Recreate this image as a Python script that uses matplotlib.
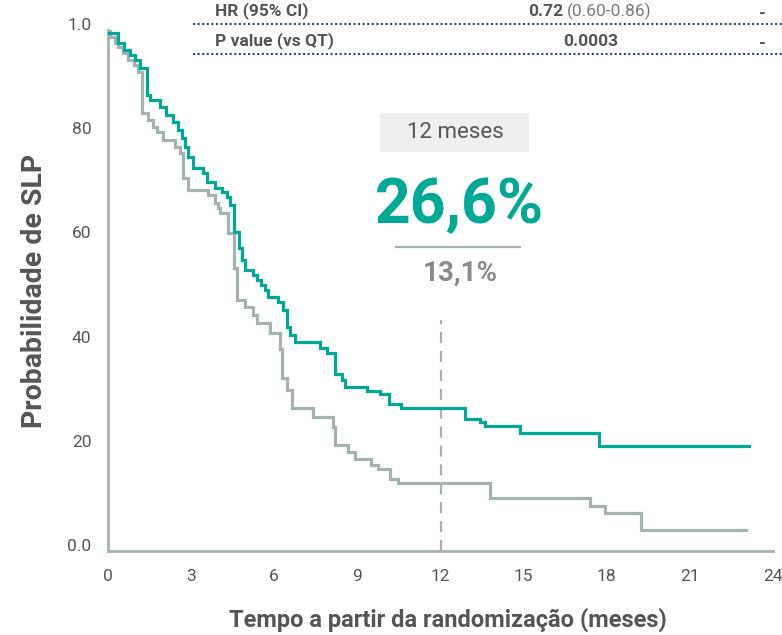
import matplotlib
matplotlib.use("Agg")
import matplotlib.pyplot as plt
import matplotlib.transforms as mtransforms
from matplotlib.lines import Line2D
from matplotlib.patches import Rectangle

plt.rcParams['font.family'] = ['Roboto', 'DejaVu Sans']

# ---------------- data ----------------
teal_t = [0, 0.36, 0.58, 0.79, 0.97, 1.15, 1.41, 1.51, 1.87, 2.09, 2.34, 2.52, 2.67, 2.77,
          2.88, 3.06, 3.42, 3.57, 3.86, 4.11, 4.29, 4.40, 4.54, 4.72, 4.83, 4.94, 5.23,
          5.37, 5.51, 5.66, 5.77, 6.13, 6.31, 6.45, 6.56, 6.74, 7.64, 7.89, 8.18, 8.43,
          8.54, 9.33, 9.80, 10.13, 10.56, 12.90, 13.44, 13.62, 14.88, 17.73]
teal_s = [99.4, 97.5, 96.2, 95.2, 94.2, 92.7, 87.5, 86.6, 85.2, 83.7, 82.3, 80.8, 79.3, 77.5,
          75.6, 73.5, 72.6, 70.8, 69.7, 68.9, 67.9, 66.4, 61.2, 58.2, 55.9, 53.9, 53.0,
          52.0, 51.1, 50.1, 48.8, 47.8, 46.3, 43.0, 41.5, 40.1, 39.0, 38.0, 34.0, 32.8,
          31.5, 30.7, 30.1, 28.2, 27.4, 25.3, 24.8, 24.0, 22.6, 20.2]
teal_end = 23.14

grey_t = [0, 0.07, 0.25, 0.36, 0.54, 0.72, 0.94, 1.08, 1.23, 1.44, 1.62, 1.77, 1.98, 2.41,
          2.59, 2.70, 2.88, 3.60, 3.86, 3.96, 4.04, 4.32, 4.54, 4.65, 4.94, 5.23, 5.37,
          5.84, 6.20, 6.27, 6.45, 6.63, 7.39, 8.11, 8.18, 8.65, 8.90, 9.48, 9.73, 10.16,
          10.45, 13.77, 17.41, 17.95, 19.24]
grey_s = [100, 98.7, 97.5, 96.7, 95.6, 94.2, 93.3, 91.9, 84.1, 82.7, 81.4, 80.4, 78.9, 77.5,
          76.4, 71.6, 69.3, 68.3, 66.8, 65.8, 64.9, 61.0, 54.3, 48.2, 46.8, 45.3, 43.8,
          41.8, 38.8, 33.2, 30.9, 27.4, 25.7, 23.8, 20.3, 19.0, 17.7, 16.5, 15.7, 13.8,
          13.1, 10.2, 8.6, 7.3, 4.0]
grey_end = 23.03

x_ticks = [0, 3, 6, 9, 12, 15, 18, 21, 24]
y_ticks = [0, 20, 40, 60, 80, 100]
y_tick_labels = ["0.0", "20", "40", "60", "80", "1.0"]

landmark_month = 12
landmark_top = 44.3
rate_teal = "26,6%"
rate_grey = "13,1%"
landmark_label = "12 meses"

table_rows = ["HR (95% CI)", "P value (vs QT)"]
table_bold = ["0.72", "0.0003"]
table_rest = ["(0.60-0.86)", ""]
table_other = ["-", "-"]

# ---------------- styling ----------------
TEAL = "#00A896"
GREY = "#A4B3AF"
TXT = "#555555"

W, H = 782, 635
fig = plt.figure(figsize=(W / 100, H / 100), dpi=100)

def fx(px):
    return px / W

def fy(py):
    return 1 - py / H

ax = fig.add_axes([fx(108), fy(551), (773 - 108) / W, (551 - 30) / H])
ax.set_xlim(0, 23.96)
ax.set_ylim(0, 100)

ax.step(teal_t + [teal_end], teal_s + [teal_s[-1]], where='post', color=TEAL, lw=2.3,
        zorder=4, solid_joinstyle='miter')
ax.step(grey_t + [grey_end], grey_s + [grey_s[-1]], where='post', color=GREY, lw=2.3,
        zorder=3, solid_joinstyle='miter')

ax.plot([landmark_month, landmark_month], [0, landmark_top], color=GREY, lw=1.6,
        linestyle=(0, (5, 3.5)), zorder=2)

for s in ['top', 'right']:
    ax.spines[s].set_visible(False)
for s in ['left', 'bottom']:
    ax.spines[s].set_color(GREY)
    ax.spines[s].set_linewidth(2)

ax.set_xticks(x_ticks)
ax.set_xticklabels([str(v) for v in x_ticks])
ax.set_yticks(y_ticks)
ax.set_yticklabels(y_tick_labels)
ax.tick_params(axis='both', length=0, labelsize=12.5, colors=TXT)
ax.tick_params(axis='x', pad=13)
ax.tick_params(axis='y', pad=12)
off = mtransforms.ScaledTranslation(0, 6 / 100, fig.dpi_scale_trans)
for lab in ax.get_yticklabels():
    lab.set_transform(lab.get_transform() + off)

fig.text(fx(448), fy(620), "Tempo a partir da randomização (meses)", ha='center', va='center',
         fontsize=17, fontweight='bold', color=TXT)
fig.text(fx(35), fy(291), "Probabilidade de SLP", ha='center', va='center', rotation=90,
         fontsize=20.5, fontweight='bold', color=TXT)

# landmark annotation
fig.patches.append(Rectangle((fx(380), fy(152)), (529 - 380) / W, (152 - 113) / H,
                             transform=fig.transFigure, facecolor='#EFEFEF', edgecolor='none'))
fig.text(fx(455), fy(133), landmark_label, ha='center', va='center', fontsize=16, color=TXT)
fig.text(fx(459), fy(206), rate_teal, ha='center', va='center', fontsize=45,
         fontweight='bold', color=TEAL)
fig.lines.append(Line2D([fx(396), fx(520)], [fy(247), fy(247)], transform=fig.transFigure,
                        color=GREY, lw=1.6))
fig.text(fx(460), fy(273), rate_grey, ha='center', va='center', fontsize=20,
         fontweight='bold', color='#8A8A8A')

# top table
row_y = [11, 41]
line_y = [24, 54]
for i in range(2):
    fig.text(fx(215), fy(row_y[i]), table_rows[i], ha='left', va='center', fontsize=12.5,
             fontweight='bold', color=TXT)
    if table_rest[i]:
        fig.text(fx(563), fy(row_y[i]), table_bold[i], ha='right', va='center', fontsize=12.5,
                 fontweight='bold', color=TXT)
        fig.text(fx(567), fy(row_y[i]), table_rest[i], ha='left', va='center', fontsize=12.5,
                 color='#7A7A7A')
    else:
        fig.text(fx(591), fy(row_y[i]), table_bold[i], ha='center', va='center', fontsize=12.5,
                 fontweight='bold', color=TXT)
    fig.text(fx(762), fy(row_y[i] + 2), table_other[i], ha='center', va='center', fontsize=12.5,
             fontweight='bold', color=TXT)
    fig.lines.append(Line2D([fx(193), fx(782)], [fy(line_y[i]), fy(line_y[i])],
                            transform=fig.transFigure, color='#2B4A6F', lw=1.5,
                            linestyle=(0, (1, 1.2))))

fig.savefig("out.png", dpi=100)
